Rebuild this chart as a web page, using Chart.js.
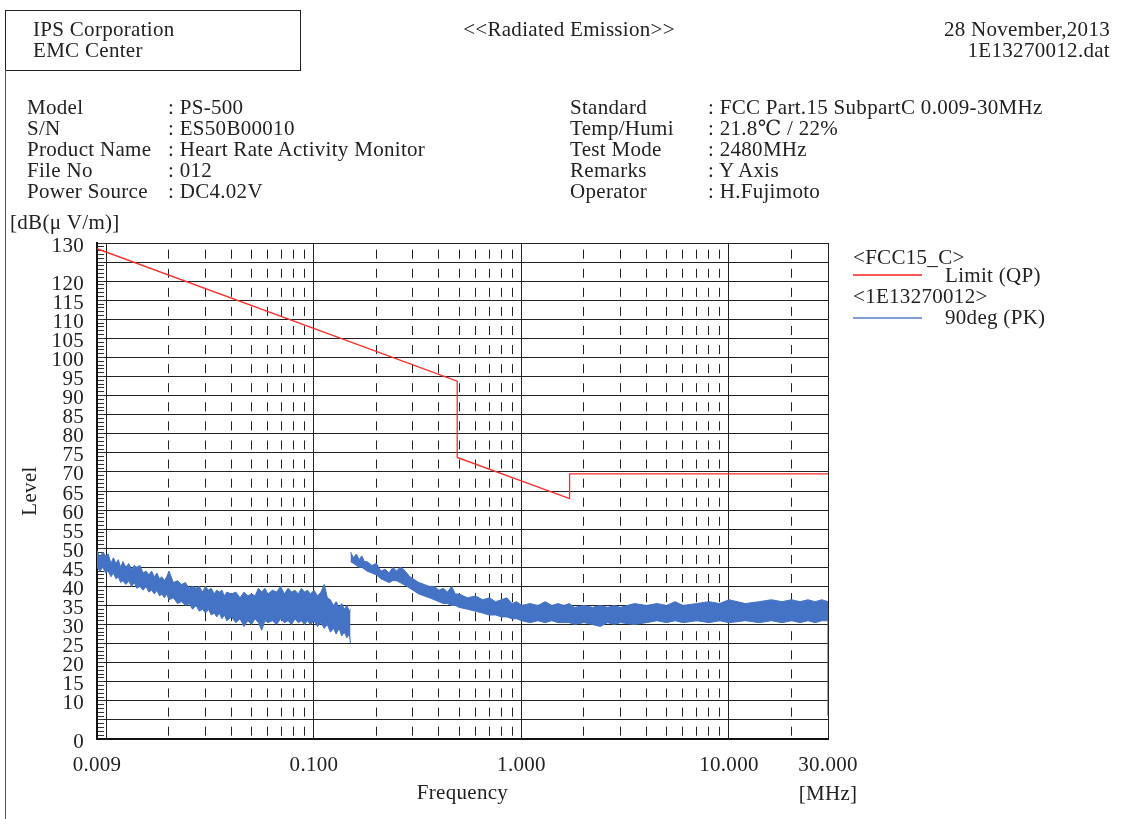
<!DOCTYPE html>
<html>
<head>
<meta charset="utf-8">
<script src="https://cdn.jsdelivr.net/npm/chart.js@4.4.0/dist/chart.umd.min.js"></script>
<style>
  body { margin: 0; background: #fff; }
  #page { position: relative; width: 1130px; height: 819px; overflow: hidden;
          font-family: "Liberation Serif", "DejaVu Serif", serif; font-size: 21px; letter-spacing: 0.3px; color: #222; }
  #page canvas { position: absolute; left: 0; top: 0; }
  .t { position: absolute; white-space: nowrap; line-height: 21px; }
  .box { position: absolute; left: 5px; top: 10px; width: 294px; height: 59px; border: 1px solid #222; }
  .vline { position: absolute; left: 5px; top: 70px; width: 1px; height: 760px; background: #555; }
  .key { position: absolute; height: 2px; width: 69px; left: 853px; }
</style>
</head>
<body>
<div id="page">
  <canvas id="myChart" width="1130" height="819"></canvas>

  <div class="box"></div>
  <div class="vline"></div>
  <div class="t" style="left:33px; top:19px">IPS Corporation</div>
  <div class="t" style="left:33px; top:40px">EMC Center</div>
  <div class="t" style="left:569px; top:19px; transform:translateX(-50%)">&lt;&lt;Radiated Emission&gt;&gt;</div>
  <div class="t" style="right:20px; top:19px">28 November,2013</div>
  <div class="t" style="right:20px; top:40px">1E13270012.dat</div>

  <div class="t" style="left:27px; top:97px">Model</div>
  <div class="t" style="left:27px; top:118px">S/N</div>
  <div class="t" style="left:27px; top:139px">Product Name</div>
  <div class="t" style="left:27px; top:160px">File No</div>
  <div class="t" style="left:27px; top:181px">Power Source</div>
  <div class="t" style="left:168px; top:97px">: PS-500</div>
  <div class="t" style="left:168px; top:118px">: ES50B00010</div>
  <div class="t" style="left:168px; top:139px">: Heart Rate Activity Monitor</div>
  <div class="t" style="left:168px; top:160px">: 012</div>
  <div class="t" style="left:168px; top:181px">: DC4.02V</div>

  <div class="t" style="left:570px; top:97px">Standard</div>
  <div class="t" style="left:570px; top:118px">Temp/Humi</div>
  <div class="t" style="left:570px; top:139px">Test Mode</div>
  <div class="t" style="left:570px; top:160px">Remarks</div>
  <div class="t" style="left:570px; top:181px">Operator</div>
  <div class="t" style="left:708px; top:97px">: FCC Part.15 SubpartC 0.009-30MHz</div>
  <div class="t" style="left:708px; top:118px">: 21.8℃ / 22%</div>
  <div class="t" style="left:708px; top:139px">: 2480MHz</div>
  <div class="t" style="left:708px; top:160px">: Y Axis</div>
  <div class="t" style="left:708px; top:181px">: H.Fujimoto</div>

  <div class="t" style="left:10px; top:212px">[dB(μ V/m)]</div>
  <div class="t" style="left:828px; top:783px; transform:translateX(-50%)">[MHz]</div>

  <!-- legend -->
  <div class="t" style="left:853px; top:247px">&lt;FCC15_C&gt;</div>
  <div class="key" style="top:274px; background:#ff5a5a"></div>
  <div class="t" style="left:945px; top:265px">Limit (QP)</div>
  <div class="t" style="left:853px; top:286px">&lt;1E13270012&gt;</div>
  <div class="key" style="top:317px; background:#7f9fd8"></div>
  <div class="t" style="left:945px; top:307px">90deg (PK)</div>
</div>

<script>
    // FCC 15.209 limit, QP (MHz / dBuV/m)
    var limitFreq  = [0.009, 0.49, 0.49, 1.705, 1.705, 30];
    var limitLevel = [128.5, 93.8, 73.8, 63.0, 69.5, 69.5];

    // PK sweep 1 (0.009 - 0.15 MHz): upper and lower edge of the trace
    var seg1Freq = [0.009, 0.0093, 0.0096, 0.0099, 0.0102, 0.0105, 0.0108, 0.0111, 0.0114, 0.0117,
                    0.012, 0.0124, 0.0128, 0.0132, 0.0136, 0.014, 0.0145, 0.015, 0.0155, 0.016,
                    0.0165, 0.017, 0.0175, 0.018, 0.0185, 0.019, 0.0195, 0.020, 0.021, 0.022,
                    0.023, 0.024, 0.025, 0.026, 0.027, 0.028, 0.029, 0.030, 0.031, 0.032,
                    0.033, 0.034, 0.035, 0.036, 0.037, 0.038, 0.040, 0.042, 0.044, 0.046,
                    0.048, 0.050, 0.052, 0.054, 0.056, 0.058, 0.060, 0.063, 0.066, 0.069,
                    0.072, 0.075, 0.078, 0.081, 0.084, 0.087, 0.090, 0.093, 0.096, 0.100,
                    0.104, 0.108, 0.112, 0.116, 0.120, 0.124, 0.128, 0.132, 0.136, 0.140,
                    0.144, 0.148, 0.150];
    var seg1Upper = [49.5, 47.5, 49, 48, 48.5, 46, 47.5, 46, 47, 45,
                     46.5, 45, 46, 44.5, 45.5, 45, 45.5, 43.5, 44, 43,
                     44, 42.5, 43.5, 42, 42.5, 41.5, 42.5, 44, 41, 41.5,
                     40.5, 41, 39.5, 40, 39.5, 40, 38.5, 40, 39, 39.5,
                     38, 39, 38.5, 39, 37.5, 38.5, 38, 38.5, 37, 38.5,
                     37.5, 38, 37.5, 39.5, 38.5, 39.5, 38, 39, 38.5, 40,
                     38, 39.5, 38.5, 39, 38, 39.5, 38.5, 39, 38, 39,
                     37.5, 38.5, 40.5, 37, 36.5, 35, 36, 34.5, 35.5, 34,
                     35, 33.5, 34];
    var seg1Lower = [45, 44, 45, 43.5, 44, 42.5, 43.5, 42, 42.5, 41,
                     41.5, 40.5, 41.5, 40, 41, 39.5, 40, 39, 40, 38.5,
                     39, 38, 39, 37.5, 38, 37, 38, 36.5, 37, 35.5,
                     36, 35, 35.5, 34, 35, 33.5, 34, 33, 34, 32.5,
                     33, 32, 33, 31.5, 32.5, 31, 32, 30.5, 31.5, 29.5,
                     31, 30, 31.5, 30.5, 28.5, 31, 30.5, 31, 30, 31.5,
                     30.5, 31, 30, 31.5, 30.5, 31, 30, 31, 30, 31,
                     29.5, 30.5, 29, 30, 28, 29, 27.5, 29, 27, 28,
                     26.5, 27.5, 25];

    // PK sweep 2 (0.15 - 30 MHz)
    var seg2Freq = [0.150, 0.155, 0.160, 0.165, 0.170, 0.175, 0.180, 0.190, 0.200, 0.210,
                    0.220, 0.230, 0.240, 0.250, 0.260, 0.270, 0.280, 0.290, 0.300, 0.320,
                    0.340, 0.360, 0.380, 0.400, 0.420, 0.440, 0.460, 0.480, 0.500, 0.550,
                    0.600, 0.650, 0.700, 0.750, 0.800, 0.850, 0.900, 0.950, 1.0, 1.1,
                    1.2, 1.3, 1.4, 1.5, 1.6, 1.7, 1.8, 2.0, 2.2, 2.4,
                    2.6, 2.8, 3.0, 3.5, 4.0, 4.5, 5.0, 5.5, 6.0, 7.0,
                    8.0, 9.0, 10, 12, 14, 16, 18, 20, 22, 24,
                    26, 28, 30];
    var seg2Upper = [49, 47.5, 48.5, 47, 48, 46.5, 46.5, 45.5, 46, 44,
                     44.5, 43.5, 45, 44, 45, 44.5, 43.5, 42.5, 42, 41,
                     40.5, 40, 40, 39, 39.5, 38.5, 40, 38, 38, 37,
                     37.5, 36.5, 37, 36, 36.5, 37, 35.5, 36, 35, 35.5,
                     35, 36, 35, 35.5, 35, 35.5, 34.5, 35, 34.5, 35,
                     34.5, 35, 34.5, 35.5, 35, 35.5, 35, 36, 35, 35.5,
                     36, 35.5, 36.5, 35.5, 36, 36.5, 36, 36.5, 36, 36.5,
                     36, 36.5, 36];
    var seg2Lower = [46.5, 46, 45.5, 45, 45, 44.5, 44, 43.5, 43, 42,
                     41.5, 41, 41.5, 41.5, 41, 40.5, 40, 39.5, 39, 38,
                     37.5, 37, 36.5, 36, 35.5, 35.5, 35, 35, 34.5, 34,
                     33.5, 33, 32.5, 32.5, 32, 32, 31.5, 31.5, 31, 30.5,
                     31, 30.5, 31, 30.5, 30.5, 30.5, 30, 30.5, 30, 29.5,
                     30.5, 30, 30.5, 30, 30.5, 31, 30.5, 31, 30.5, 31,
                     30.5, 31, 30.5, 31, 30.5, 31, 30.5, 31, 30.5, 31,
                     30.5, 31, 31];
    // end of sweep
    var tailFreq  = [30, 30];
    var tailLevel = [33, 6];

    var xTickValues = [0.009, 0.01, 0.02, 0.03, 0.04, 0.05, 0.06, 0.07, 0.08, 0.09,
                       0.1, 0.2, 0.3, 0.4, 0.5, 0.6, 0.7, 0.8, 0.9,
                       1, 2, 3, 4, 5, 6, 7, 8, 9, 10, 20, 30];
    var xLabelled = [0.009, 0.1, 1, 10, 30];
    var yHiddenLabels = [125, 5];

    var RED = '#ff2a2a';
    var BLUE = '#4472c4';
    var FONT = { family: '"Liberation Serif", serif', size: 21 };

    function pts(fs, vs) {
        return fs.map(function (f, i) { return { x: f, y: vs[i] }; });
    }
    function isSolid(v) {
        var l = Math.log10(v);
        return v === 0.009 || v === 30 || Math.abs(l - Math.round(l)) < 1e-9;
    }

    var ctx = document.getElementById('myChart').getContext('2d');
    var myChart = new Chart(ctx, {
        type: 'line',
        data: {
            datasets: [
                { label: 'Limit (QP)', data: pts(limitFreq, limitLevel), borderColor: RED, borderWidth: 1.3, fill: false },
                { label: 'seg1 hi', data: pts(seg1Freq, seg1Upper), borderColor: BLUE, borderWidth: 1, fill: false },
                { label: 'seg1 lo', data: pts(seg1Freq, seg1Lower), borderColor: BLUE, borderWidth: 1, fill: '-1', backgroundColor: BLUE },
                { label: 'seg2 hi', data: pts(seg2Freq, seg2Upper), borderColor: BLUE, borderWidth: 1, fill: false },
                { label: 'seg2 lo', data: pts(seg2Freq, seg2Lower), borderColor: BLUE, borderWidth: 1, fill: '-1', backgroundColor: BLUE },
                { label: 'tail', data: pts(tailFreq, tailLevel), borderColor: BLUE, borderWidth: 1.3, fill: false }
            ]
        },
        options: {
            responsive: false,
            animation: false,
            layout: { padding: { left: 0, top: 243, right: 302, bottom: 0 }, autoPadding: false },
            elements: { point: { radius: 0 }, line: { tension: 0 } },
            plugins: { legend: { display: false }, tooltip: { enabled: false } },
            scales: {
                x: {
                    type: 'logarithmic',
                    min: 0.009,
                    max: 30,
                    afterBuildTicks: function (s) { s.ticks = xTickValues.map(function (v) { return { value: v }; }); },
                    afterFit: function (s) { s.height = 80; },
                    ticks: {
                        autoSkip: false, maxRotation: 0, padding: 14, color: '#222', font: FONT,
                        callback: function (v) { return xLabelled.indexOf(v) >= 0 ? v.toFixed(3) : ''; }
                    },
                    grid: { color: '#222', lineWidth: 1, drawTicks: false },
                    border: {
                        color: '#111', width: 2,
                        dash: function (c) { return (c.type === 'tick' && !isSolid(c.tick.value)) ? [9, 10.08] : []; },
                        dashOffset: 12.4
                    },
                    title: { display: true, text: 'Frequency', color: '#222', font: FONT, padding: { top: 0, bottom: 13 } }
                },
                y: {
                    min: 0,
                    max: 130,
                    weight: 1,
                    afterFit: function (s) { s.width = 97; },
                    ticks: {
                        stepSize: 5, autoSkip: false, padding: 13, labelOffset: 3, color: '#222', font: FONT,
                        callback: function (v) { return yHiddenLabels.indexOf(v) >= 0 ? '' : String(v); }
                    },
                    grid: { color: '#222', lineWidth: 1, drawTicks: false },
                    border: { color: '#111', width: 2 },
                    title: { display: true, text: 'Level', color: '#222', font: FONT, padding: { top: 18, bottom: 0 } }
                },
                yMinor: {
                    type: 'linear',
                    position: 'left',
                    weight: 0,
                    min: 0,
                    max: 130,
                    afterFit: function (s) { s.width = 0; },
                    ticks: { display: false, stepSize: 1 },
                    grid: { drawOnChartArea: false, drawTicks: true, tickLength: -7, tickColor: '#333', tickWidth: 1 },
                    border: { display: false }
                }
            }
        }
    });
</script>
</body>
</html>
